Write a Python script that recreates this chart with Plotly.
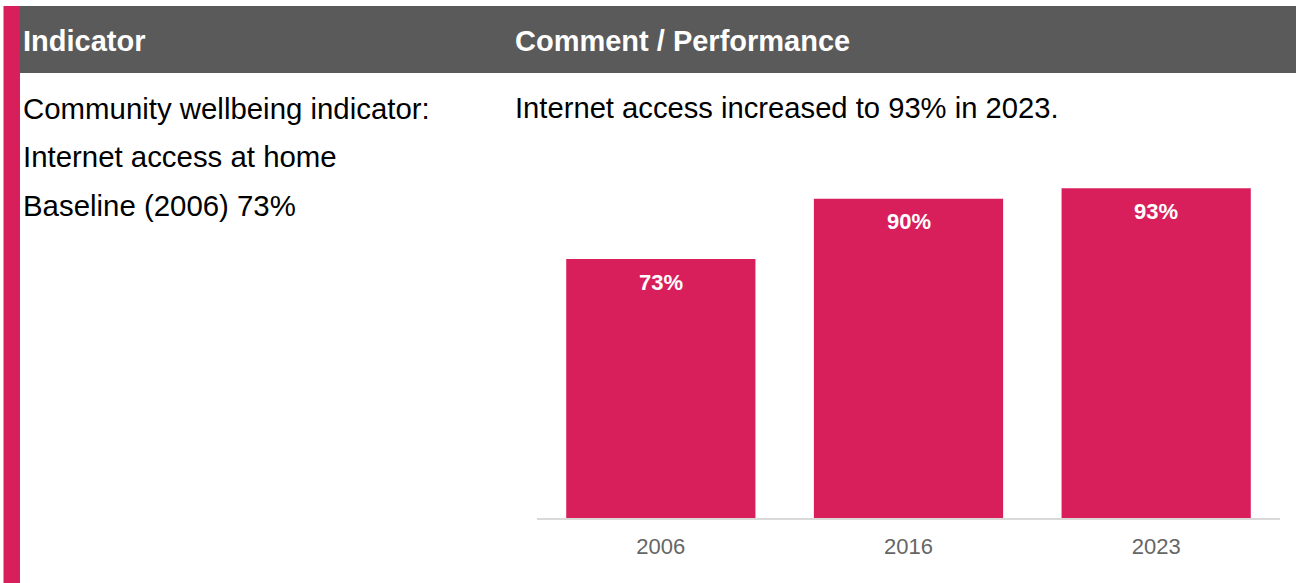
import plotly.graph_objects as go

years = ["2006", "2016", "2023"]
values = [73, 90, 93]
value_labels = ["73%", "90%", "93%"]

header_left = "Indicator"
header_right = "Comment / Performance"
left_lines = ["Community wellbeing indicator:", "Internet access at home", "Baseline (2006) 73%"]
comment = "Internet access increased to 93% in 2023."

W, H = 1296, 583
PINK = "#D81F5C"
GREY = "#5A5A5A"
FONT = "Arial, Liberation Sans, sans-serif"

def py(px):
    return 1 - px / H

fig = go.Figure()
fig.add_trace(go.Bar(
    x=years, y=values, marker=dict(color=PINK, line=dict(width=0)),
    hoverinfo="skip", showlegend=False,
))

# bar value labels (category index + value, through the axes)
for i, (v, lab) in enumerate(zip(values, value_labels)):
    fig.add_annotation(x=i, y=v, xref="x", yref="y", text=f"<b>{lab}</b>",
                       showarrow=False, yanchor="middle", yshift=-23,
                       font=dict(family=FONT, size=22, color="white"))

shapes = [
    dict(type="rect", xref="paper", yref="paper", x0=20 / W, x1=1, y0=py(73), y1=py(6),
         fillcolor=GREY, line=dict(width=0), layer="below"),
    dict(type="rect", xref="paper", yref="paper", x0=3.5 / W, x1=20 / W, y0=0, y1=py(6),
         fillcolor=PINK, line=dict(width=0), layer="below"),
]

anns = [
    dict(x=20.5 / W, y=py(41), text=f"<b>{header_left}</b>"),
    dict(x=512.5 / W, y=py(41), text=f"<b>{header_right}</b>"),
]
for a in anns:
    a.update(xref="paper", yref="paper", xanchor="left", yanchor="middle", showarrow=False,
             font=dict(family=FONT, size=29, color="white"))
    fig.add_annotation(**a)

for i, line in enumerate(left_lines):
    fig.add_annotation(x=20.5 / W, y=py(108 + 49 * i), xref="paper", yref="paper",
                       text=line, xanchor="left", yanchor="middle", showarrow=False,
                       font=dict(family=FONT, size=29.4, color="black"))
fig.add_annotation(x=512.5 / W, y=py(108), xref="paper", yref="paper",
                   text=comment, xanchor="left", yanchor="middle", showarrow=False,
                   font=dict(family=FONT, size=29.2, color="black"))

fig.update_layout(
    width=W, height=H, margin=dict(l=0, r=0, t=0, b=0, autoexpand=False),
    paper_bgcolor="white", plot_bgcolor="white",
    shapes=shapes, bargap=0.236,
    xaxis=dict(domain=[537 / W, 1280 / W], type="category", showline=True,
               linecolor="#d9d9d9", linewidth=2, ticks="", showgrid=False,
               tickfont=dict(family=FONT, size=22, color="#666666"),
               ticklabelstandoff=8, fixedrange=True, automargin=False),
    yaxis=dict(domain=[65 / H, (H - 163.3) / H], range=[0, 100], visible=False,
               showgrid=False, fixedrange=True, automargin=False),
)

fig.write_html("out.html", config={"displayModeBar": False},
               post_script="document.body.style.margin='0';")
